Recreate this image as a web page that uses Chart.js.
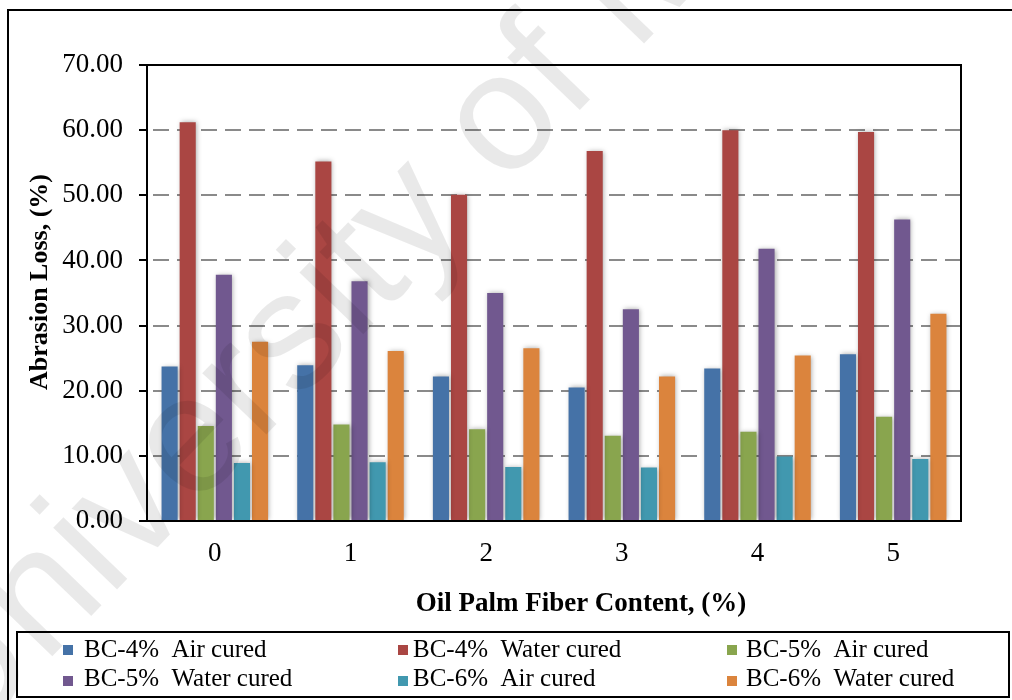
<!DOCTYPE html>
<html>
<head>
<meta charset="utf-8">
<script src="https://cdn.jsdelivr.net/npm/chart.js@4.4.1/dist/chart.umd.min.js"></script>
<style>
  html, body { margin: 0; padding: 0; background: #fff; }
  #wrap { width: 1012px; height: 700px; }
</style>
</head>
<body>
<div id="wrap"><canvas id="chart" width="1012" height="700"></canvas></div>
<script>
// Fiber content groups on the x axis
const categories = ['0', '1', '2', '3', '4', '5'];

// Series names and colours
const seriesLabels = [
  'BC-4%  Air cured', 'BC-4%  Water cured', 'BC-5%  Air cured',
  'BC-5%  Water cured', 'BC-6%  Air cured', 'BC-6%  Water cured'
];
const seriesColors = ['#4572A7', '#AA4643', '#89A54E', '#71588F', '#4198AF', '#DB843D'];

// Abrasion loss (%) per fiber content
const bc4Air   = [23.7, 23.9, 22.2, 20.5, 23.4, 25.6];
const bc4Water = [61.2, 55.2, 50.1, 56.8, 60.0, 59.7];
const bc5Air   = [14.6, 14.8, 14.1, 13.1, 13.7, 16.0];
const bc5Water = [37.8, 36.8, 35.0, 32.5, 41.8, 46.3];
const bc6Air   = [8.9, 9.0, 8.3, 8.2, 9.9, 9.5];
const bc6Water = [27.5, 26.1, 26.5, 22.2, 25.4, 31.8];

// Value axis ticks and titles
const yTickValues = [0, 10, 20, 30, 40, 50, 60, 70];
const xTitle = 'Oil Palm Fiber Content, (%)';
const yTitle = 'Abrasion Loss, (%)';
const watermarkText = 'University of Malaya';

const SERIF = "'Liberation Serif', 'Times New Roman', serif";
Chart.defaults.font.family = SERIF;
Chart.defaults.color = '#000';

const seriesValues = [bc4Air, bc4Water, bc5Air, bc5Water, bc6Air, bc6Water];

// White page background
const backgroundPlugin = {
  id: 'pageBackground',
  beforeDraw(chart) {
    const ctx = chart.ctx;
    ctx.save();
    ctx.fillStyle = '#fff';
    ctx.fillRect(0, 0, chart.width, chart.height);
    ctx.restore();
  }
};

// Soft glow behind the bars
const barShadowPlugin = {
  id: 'barShadow',
  beforeDatasetsDraw(chart) {
    const ctx = chart.ctx;
    ctx.save();
    ctx.shadowColor = 'rgba(0,0,0,0.35)';
    ctx.shadowBlur = 5;
    ctx.shadowOffsetX = 1;
    ctx.shadowOffsetY = 0;
  },
  afterDatasetsDraw(chart) {
    chart.ctx.restore();
  }
};

// Plot frame, axis titles, boxed legend, outer border and watermark
const decorPlugin = {
  id: 'decor',
  afterDraw(chart) {
    const ctx = chart.ctx;
    const a = chart.chartArea;
    ctx.save();

    // plot frame
    ctx.strokeStyle = '#000';
    ctx.lineWidth = 2;
    ctx.strokeRect(a.left, a.top, a.right - a.left, a.bottom - a.top);

    // axis titles
    ctx.fillStyle = '#000';
    ctx.textAlign = 'center';
    ctx.textBaseline = 'middle';
    ctx.font = 'bold 27px ' + SERIF;
    ctx.fillText(xTitle, 581, 604);
    ctx.save();
    ctx.translate(40, 282);
    ctx.rotate(-Math.PI / 2);
    ctx.font = 'bold 26px ' + SERIF;
    ctx.fillText(yTitle, 0, 0);
    ctx.restore();

    // legend box
    ctx.lineWidth = 2;
    ctx.strokeRect(17, 632, 992, 65);
    const colSquareX = [63, 398, 727];
    const colTextX = [84, 413, 746];
    const rowSquareY = [645, 676];
    const rowBaseY = [657, 686];
    ctx.font = '25px ' + SERIF;
    ctx.textAlign = 'left';
    ctx.textBaseline = 'alphabetic';
    chart.data.datasets.forEach((ds, i) => {
      const col = i % 3, row = Math.floor(i / 3);
      ctx.fillStyle = ds.backgroundColor;
      ctx.fillRect(colSquareX[col], rowSquareY[row], 10, 10);
      ctx.fillStyle = '#000';
      ctx.fillText(ds.label, colTextX[col], rowBaseY[row]);
    });

    // outer border
    ctx.lineWidth = 2;
    ctx.strokeRect(8, 10, 1040, 720);

    // watermark
    ctx.save();
    ctx.translate(-40, 752);
    ctx.rotate(-46 * Math.PI / 180);
    ctx.font = '168px "Liberation Sans", Arial, sans-serif';
    ctx.fillStyle = 'rgba(0,0,0,0.085)';
    ctx.textAlign = 'left';
    ctx.textBaseline = 'alphabetic';
    ctx.fillText(watermarkText, 0, 0);
    ctx.restore();

    ctx.restore();
  }
};

new Chart(document.getElementById('chart'), {
  type: 'bar',
  data: {
    labels: categories,
    datasets: seriesLabels.map((label, i) => ({
      label,
      data: seriesValues[i],
      backgroundColor: seriesColors[i],
      borderWidth: 0,
      categoryPercentage: 0.8,
      barPercentage: 0.89
    }))
  },
  options: {
    responsive: false,
    animation: false,
    devicePixelRatio: 1,
    layout: { padding: { left: 8, right: 51, top: 65, bottom: 0 } },
    plugins: {
      legend: { display: false },
      tooltip: { enabled: false },
      title: { display: false }
    },
    scales: {
      x: {
        grid: { display: false, drawTicks: false },
        border: { display: false },
        ticks: { padding: 17, font: { size: 27 }, color: '#000' },
        afterFit(scale) { scale.height = 179; }
      },
      y: {
        min: 0,
        max: 70,
        afterBuildTicks(scale) { scale.ticks = yTickValues.map(v => ({ value: v })); },
        ticks: {
          padding: 16,
          font: { size: 27 },
          color: '#000',
          callback: v => Number(v).toFixed(2)
        },
        grid: {
          color: c => (c.tick && (c.tick.value === 0 || c.tick.value === 70)) ? 'rgba(0,0,0,0)' : '#8a8a8a',
          lineWidth: 2,
          tickLength: 8,
          tickColor: '#000',
          tickWidth: 2,
          tickBorderDash: [],
          drawTicks: true
        },
        border: { display: false, dash: [16, 8], dashOffset: 18 },
        afterFit(scale) { scale.width = 139; }
      }
    }
  },
  plugins: [backgroundPlugin, barShadowPlugin, decorPlugin]
});
</script>
</body>
</html>
